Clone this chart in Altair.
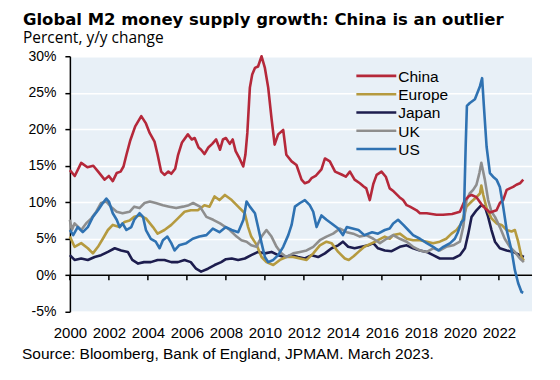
import altair as alt
import pandas as pd

TITLE = "Global M2 money supply growth: China is an outlier"
SUBTITLE = "Percent, y/y change"
SOURCE = "Source: Bloomberg, Bank of England, JPMAM. March 2023."

SERIES = ["China", "Europe", "Japan", "UK", "US"]
COLORS = {"China": "#b5283a", "Europe": "#b59a3f", "Japan": "#1d1d4e", "UK": "#8e8e8e", "US": "#2f72b2"}
DRAW_ORDER = ["Japan", "Europe", "UK", "China", "US"]

TICK_YEARS = [2000, 2002, 2004, 2006, 2008, 2010, 2012, 2014, 2016, 2018, 2020, 2022]
Y_TICKS = [-5, 0, 5, 10, 15, 20, 25, 30]

china_x = [2000.0, 2000.25, 2000.58, 2000.9, 2001.2, 2001.45, 2001.78, 2002.0, 2002.2, 2002.4, 2002.6, 2002.75,
           2002.9, 2003.1, 2003.35, 2003.66, 2003.9, 2004.09, 2004.34, 2004.5, 2004.68, 2004.85, 2005.05, 2005.2,
           2005.4, 2005.55, 2005.75, 2006.05, 2006.25, 2006.4, 2006.6, 2006.73, 2006.9, 2007.1, 2007.3, 2007.5,
           2007.7, 2007.85, 2008.0, 2008.2, 2008.35, 2008.5, 2008.7, 2008.89, 2009.0, 2009.1, 2009.23, 2009.35,
           2009.49, 2009.65, 2009.83, 2010.0, 2010.17, 2010.34, 2010.5, 2010.68, 2010.94, 2011.1, 2011.37, 2011.62,
           2011.88, 2012.05, 2012.25, 2012.39, 2012.6, 2012.73, 2012.9, 2013.08, 2013.33, 2013.6, 2013.93, 2014.15,
           2014.36, 2014.6, 2014.87, 2015.05, 2015.2, 2015.38, 2015.56, 2015.73, 2015.98, 2016.2, 2016.4, 2016.6,
           2016.9, 2017.09, 2017.27, 2017.44, 2017.78, 2017.95, 2018.3, 2018.8, 2019.14, 2019.6, 2020.0, 2020.26,
           2020.45, 2020.6, 2020.85, 2021.2, 2021.54, 2021.88, 2022.05, 2022.22, 2022.4, 2022.56, 2022.73, 2022.9,
           2023.08, 2023.25]
china_y = [14.4, 13.6, 15.4, 14.8, 15.0, 14.2, 13.1, 13.6, 12.9, 14.0, 14.2, 14.9,
           16.5, 18.5, 20.4, 21.8, 20.8, 19.5, 18.3, 16.5, 14.2, 13.75, 14.2, 13.9,
           14.6, 16.5, 18.2, 19.3, 18.6, 18.8, 17.5, 17.2, 16.6, 17.5, 18.0, 18.6,
           17.2, 18.6, 18.8, 18.0, 18.6, 17.0, 16.0, 14.9, 16.5, 19.5, 25.7, 27.5,
           28.4, 28.6, 30.0, 28.4, 25.7, 21.5, 17.9, 19.3, 19.9, 16.5, 15.6, 15.1,
           13.1, 12.6, 12.8, 13.3, 13.6, 14.0, 14.5, 16.0, 15.6, 14.2, 13.8, 13.5,
           14.2, 13.1, 12.6, 12.2, 11.9, 10.3, 12.5, 13.75, 14.2, 13.5, 11.9, 11.5,
           10.7, 10.3, 9.6, 9.4, 8.9, 8.5, 8.5, 8.3, 8.3, 8.4, 8.7, 10.3,
           10.8, 11.0, 10.7, 9.4, 8.6, 8.9, 9.9, 10.3, 11.7, 11.9, 12.1, 12.4,
           12.6, 13.1]

europe_x = [2000.0, 2000.24, 2000.58, 2000.92, 2001.18, 2001.44, 2001.69, 2001.95, 2002.2, 2002.55, 2002.8, 2003.06,
            2003.3, 2003.57, 2003.9, 2004.26, 2004.5, 2004.85, 2005.2, 2005.54, 2005.88, 2006.2, 2006.56, 2006.9,
            2007.16, 2007.42, 2007.67, 2007.95, 2008.3, 2008.63, 2008.97, 2009.14, 2009.3, 2009.57, 2009.83, 2010.08,
            2010.43, 2010.77, 2011.1, 2011.45, 2011.8, 2012.14, 2012.48, 2012.82, 2013.16, 2013.42, 2013.76, 2014.1,
            2014.3, 2014.55, 2014.8, 2015.1, 2015.5, 2015.8, 2016.15, 2016.4, 2016.58, 2016.92, 2017.27, 2017.6,
            2017.95, 2018.3, 2018.63, 2018.97, 2019.3, 2019.57, 2019.83, 2020.08, 2020.34, 2020.6, 2020.85, 2021.03,
            2021.1, 2021.2, 2021.37, 2021.62, 2021.88, 2022.14, 2022.4, 2022.65, 2022.82, 2022.99, 2023.16, 2023.28]
europe_y = [5.3, 3.9, 4.4, 3.7, 3.0, 3.9, 5.0, 6.2, 6.9, 6.6, 7.3, 7.5,
            8.0, 8.2, 7.8, 6.6, 5.7, 6.2, 6.9, 7.8, 8.7, 8.9, 8.9, 9.6,
            9.4, 10.8, 10.3, 11.0, 10.3, 9.4, 8.5, 6.6, 5.3, 4.2, 2.5, 1.8,
            1.4, 2.1, 2.5, 2.5, 2.3, 2.1, 3.0, 4.1, 4.6, 4.4, 3.2, 2.3,
            2.1, 2.6, 3.2, 3.9, 4.4, 4.8, 5.3, 5.0, 5.5, 5.7, 5.0, 4.8,
            4.8, 4.6, 4.4, 4.6, 5.0, 5.7, 6.2, 7.1, 9.4, 10.1, 10.7, 11.2,
            12.3, 11.0, 9.2, 7.8, 7.1, 6.9, 6.2, 6.0, 6.2, 4.6, 2.5, 2.0]

japan_x = [2000.0, 2000.24, 2000.58, 2000.92, 2001.27, 2001.6, 2001.95, 2002.3, 2002.63, 2002.97, 2003.2, 2003.5,
           2003.8, 2004.15, 2004.5, 2004.85, 2005.2, 2005.54, 2005.88, 2006.2, 2006.47, 2006.73, 2007.08, 2007.42,
           2007.76, 2008.0, 2008.3, 2008.63, 2008.97, 2009.3, 2009.65, 2010.0, 2010.34, 2010.68, 2011.0, 2011.37,
           2011.7, 2012.05, 2012.4, 2012.73, 2013.08, 2013.42, 2013.76, 2014.0, 2014.27, 2014.6, 2014.95, 2015.3,
           2015.56, 2015.8, 2016.15, 2016.5, 2016.92, 2017.27, 2017.6, 2017.95, 2018.3, 2018.63, 2018.97, 2019.3,
           2019.66, 2020.0, 2020.26, 2020.43, 2020.6, 2020.85, 2021.1, 2021.28, 2021.45, 2021.62, 2021.8, 2022.05,
           2022.4, 2022.73, 2023.08, 2023.28]
japan_y = [2.75, 2.1, 2.3, 2.1, 2.5, 2.75, 3.2, 3.7, 3.4, 3.2, 2.1, 1.6,
           1.8, 1.8, 2.1, 2.1, 1.8, 1.8, 2.1, 1.8, 0.9, 0.5, 0.9, 1.4,
           1.8, 2.2, 2.3, 2.1, 2.3, 2.75, 3.2, 3.0, 3.2, 2.75, 2.5, 2.75,
           2.5, 2.3, 2.75, 2.5, 3.0, 3.7, 4.1, 4.6, 3.9, 3.7, 3.9, 4.1,
           4.4, 3.7, 3.4, 3.3, 3.9, 4.1, 3.7, 3.4, 3.2, 2.75, 2.3, 2.3,
           2.3, 2.75, 3.7, 5.7, 8.0, 8.9, 9.6, 9.4, 8.0, 6.2, 4.6, 3.7,
           3.4, 3.2, 2.75, 2.5]

uk_x = [2000.0, 2000.1, 2000.24, 2000.58, 2000.83, 2001.1, 2001.35, 2001.6, 2001.87, 2002.1, 2002.4, 2002.7,
        2003.06, 2003.3, 2003.57, 2003.83, 2004.1, 2004.4, 2004.77, 2005.1, 2005.45, 2005.8, 2006.1, 2006.32,
        2006.67, 2007.0, 2007.35, 2007.7, 2008.2, 2008.55, 2008.8, 2009.06, 2009.3, 2009.57, 2009.83, 2010.08,
        2010.34, 2010.6, 2010.85, 2011.1, 2011.45, 2011.8, 2012.14, 2012.48, 2012.82, 2013.16, 2013.5, 2013.85,
        2014.2, 2014.53, 2014.87, 2015.2, 2015.56, 2015.9, 2016.24, 2016.58, 2016.92, 2017.27, 2017.6, 2017.95,
        2018.3, 2018.63, 2018.97, 2019.3, 2019.66, 2020.0, 2020.17, 2020.34, 2020.5, 2020.68, 2020.85, 2021.0,
        2021.1, 2021.28, 2021.45, 2021.62, 2021.8, 2022.05, 2022.3, 2022.56, 2022.82, 2023.08, 2023.28]
uk_y = [7.6, 6.2, 7.1, 6.2, 7.1, 7.8, 8.7, 9.9, 10.1, 9.4, 8.7, 8.5,
        8.7, 9.4, 9.2, 9.9, 10.1, 9.9, 9.6, 9.4, 9.2, 9.4, 9.6, 9.9,
        9.4, 8.0, 7.6, 7.1, 6.2, 5.3, 4.8, 4.6, 4.1, 3.9, 5.3, 6.2,
        5.3, 3.9, 3.0, 2.5, 3.0, 3.2, 3.4, 3.9, 4.8, 5.3, 5.7, 6.4,
        5.9, 5.7, 5.3, 5.5, 5.0, 4.4, 5.0, 5.5, 5.0, 4.6, 3.9, 3.4,
        3.2, 3.7, 3.4, 3.9, 4.1, 4.6, 6.6, 10.3, 11.2, 11.7, 12.4, 14.0,
        15.4, 13.1, 10.3, 8.7, 8.0, 6.6, 5.0, 3.9, 3.2, 2.3, 1.8]

us_x = [2000.0, 2000.17, 2000.4, 2000.66, 2000.92, 2001.18, 2001.44, 2001.69, 2001.87, 2002.0, 2002.2, 2002.4,
        2002.55, 2002.7, 2002.9, 2003.15, 2003.3, 2003.57, 2003.75, 2003.9, 2004.15, 2004.4, 2004.6, 2004.77,
        2005.0, 2005.2, 2005.37, 2005.6, 2005.97, 2006.3, 2006.64, 2007.0, 2007.33, 2007.67, 2008.0, 2008.3,
        2008.63, 2008.9, 2009.06, 2009.23, 2009.49, 2009.65, 2009.83, 2010.0, 2010.17, 2010.43, 2010.68, 2010.94,
        2011.2, 2011.37, 2011.54, 2011.8, 2012.05, 2012.3, 2012.48, 2012.65, 2012.9, 2013.16, 2013.42, 2013.76,
        2014.0, 2014.2, 2014.5, 2014.8, 2015.1, 2015.5, 2015.8, 2016.15, 2016.4, 2016.58, 2016.83, 2017.1,
        2017.35, 2017.6, 2017.95, 2018.3, 2018.63, 2018.9, 2019.15, 2019.5, 2019.74, 2019.9, 2020.08, 2020.2,
        2020.3, 2020.36, 2020.51, 2020.77, 2021.03, 2021.14, 2021.23, 2021.37, 2021.54, 2021.7, 2021.88, 2022.05,
        2022.22, 2022.4, 2022.65, 2022.82, 2022.99, 2023.16, 2023.25]
us_y = [6.2, 5.5, 6.6, 5.9, 6.6, 8.0, 8.9, 9.9, 10.5, 10.1, 8.5, 7.6,
        6.6, 7.1, 6.2, 6.6, 7.6, 8.5, 8.0, 6.2, 5.0, 4.6, 3.7, 4.8,
        5.3, 4.4, 3.4, 4.1, 4.4, 5.0, 5.3, 5.5, 6.4, 5.9, 6.6, 6.2,
        5.9, 7.6, 10.1, 9.4, 8.5, 6.6, 4.4, 2.5, 1.8, 2.1, 2.75, 3.9,
        5.5, 6.9, 9.4, 9.9, 10.3, 9.6, 8.7, 6.6, 8.2, 7.6, 7.1, 6.4,
        5.5, 6.6, 6.4, 6.2, 5.5, 5.9, 5.7, 6.2, 6.4, 7.1, 7.6, 6.9,
        6.2, 5.5, 5.0, 4.4, 3.9, 3.4, 3.9, 4.4, 5.0, 5.9, 7.3, 7.6,
        18.0, 23.2, 23.6, 24.1, 25.9, 27.0, 23.2, 17.6, 14.0, 13.5, 13.1, 12.1,
        9.4, 6.2, 3.4, 0.7, -1.1, -2.3, -2.4]

DATA = {
    "China": (china_x, china_y),
    "Europe": (europe_x, europe_y),
    "Japan": (japan_x, japan_y),
    "UK": (uk_x, uk_y),
    "US": (us_x, us_y),
}

FONT = "Liberation Sans"
WIDE_FONT = "DejaVu Sans"
SUB_FONT = "Open Sans"
W, H = 463, 256
Y_MIN, Y_MAX = -5, 30
ZERO_PX = H * Y_MAX / (Y_MAX - Y_MIN)

x_enc = alt.X(
    "year:Q",
    scale=alt.Scale(domain=[2000, 2023.7], nice=False, zero=False),
    axis=alt.Axis(values=TICK_YEARS, format="d", title=None, grid=False, domain=False, ticks=False,
                  labelFontSize=15, labelPadding=14, labelFlush=False, labelOverlap=False,
                  labelColor="black", labelFont=FONT),
)
y_enc = alt.Y(
    "value:Q",
    scale=alt.Scale(domain=[Y_MIN, Y_MAX], nice=False, zero=False),
    axis=alt.Axis(values=Y_TICKS, labelExpr="datum.value + '%'", title=None, grid=True,
                  gridColor="white", gridWidth=1.5, domainColor="black", domainWidth=1.5,
                  tickColor="black", tickWidth=1.5, tickSize=5, labelPadding=9,
                  labelOverlap=False, labelFlush=False,
                  labelFontSize=14, labelColor="black", labelFont=FONT),
)

layers = []

# zero line (x axis baseline) and downward year ticks
zero_rule = alt.Chart(alt.Data(values=[{"value": 0}])).mark_rule(color="black", strokeWidth=1.5).encode(y=y_enc)
layers.append(zero_rule)

tick_df = pd.DataFrame({"year": TICK_YEARS, "value": [0] * len(TICK_YEARS)})
x_ticks = alt.Chart(tick_df).mark_rule(color="black", strokeWidth=1.5).encode(
    x=x_enc, y=y_enc, y2=alt.value(ZERO_PX + 5)
)
layers.append(x_ticks)

for name in DRAW_ORDER:
    xs, ys = DATA[name]
    df = pd.DataFrame({"year": xs, "value": ys})
    layers.append(
        alt.Chart(df).mark_line(color=COLORS[name], strokeWidth=2.6, strokeJoin="round").encode(x=x_enc, y=y_enc)
    )

# manual legend
LEG_X0, LEG_X1, LEG_TX = 287, 327, 329
LEG_Y0, LEG_DY = 19.7, 18.3
for i, name in enumerate(SERIES):
    yy = LEG_Y0 + i * LEG_DY
    d = alt.Data(values=[{"name": name}])
    layers.append(alt.Chart(d).mark_rule(color=COLORS[name], strokeWidth=2.6).encode(
        x=alt.value(LEG_X0), x2=alt.value(LEG_X1), y=alt.value(yy)))
    layers.append(alt.Chart(d).mark_text(align="left", baseline="middle", font=FONT, fontSize=15.5,
                                         color="black").encode(
        x=alt.value(LEG_TX), y=alt.value(yy + 1), text="name:N"))

src = alt.Chart(alt.Data(values=[{"t": SOURCE}])).mark_text(
    align="left", baseline="alphabetic", font=FONT, fontSize=15.5, color="black"
).encode(x=alt.value(-48), y=alt.value(303), text="t:N")
layers.append(src)

chart = alt.layer(*layers).properties(
    width=W, height=H,
    title=alt.TitleParams(
        text=TITLE, subtitle=SUBTITLE, anchor="start", frame="group", dx=-47,
        font=WIDE_FONT, fontSize=16.5, fontWeight="bold", color="black", lineHeight=16,
        subtitleFont=SUB_FONT, subtitleFontSize=15.5, subtitleColor="black", subtitlePadding=2, offset=3,
    ),
    autosize=alt.AutoSizeParams(type="none"),
    padding={"left": 62, "top": 48, "right": 20, "bottom": 60},
).configure_view(fill="#e8f0f7", stroke=None)

chart.save("out.html", embed_options={"renderer": "svg", "actions": False})
